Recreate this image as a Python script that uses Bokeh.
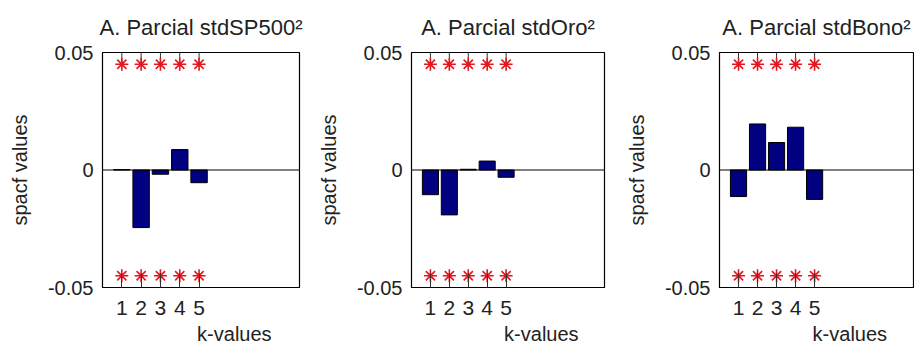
import math

from bokeh.plotting import figure
from bokeh.layouts import row
from bokeh.models import FixedTicker, Span, Range1d
from bokeh.embed import file_html
from bokeh.resources import INLINE

# Lags and partial autocorrelations of the squared standardized series
lags = [1, 2, 3, 4, 5]
pacf_sp500 = [0.0002, -0.0245, -0.0018, 0.0087, -0.0054]
pacf_oro = [-0.0105, -0.0191, 0.0003, 0.0038, -0.0031]
pacf_bono = [-0.0113, 0.0196, 0.0117, 0.0182, -0.0125]

# Confidence band drawn as star markers at each lag
band_upper = [0.045] * 5
band_lower = [-0.045] * 5

titles = ["A. Parcial stdSP500\u00b2", "A. Parcial stdOro\u00b2", "A. Parcial stdBono\u00b2"]
y_min, y_max = -0.05, 0.05
y_ticks = [-0.05, 0, 0.05]
y_tick_labels = {-0.05: "-0.05", 0: "0", 0.05: "0.05"}
x_label = "k-values"
y_label = "spacf values"

FONT = "Liberation Sans"
TEXT = "#222222"


def panel(title, values, width, border_left, border_right):
    p = figure(width=width, height=347, output_backend="svg", toolbar_location=None,
               x_range=Range1d(0, 10.2), y_range=Range1d(y_min, y_max),
               min_border_left=border_left, min_border_right=border_right,
               min_border_top=10, min_border_bottom=58)
    p.title.text = title
    p.title.text_font = FONT
    p.title.text_font_size = "22px"
    p.title.text_font_style = "normal"
    p.title.align = "center"
    p.title.text_color = TEXT
    p.title.standoff = 25

    p.grid.visible = False
    p.outline_line_color = "black"
    p.outline_line_width = 1.2
    p.background_fill_color = "white"
    p.border_fill_color = "white"

    # bottom axis; the label sits to the right of the frame centre
    xa = p.xaxis[0]
    xa.ticker = FixedTicker(ticks=lags)
    xa.major_tick_in = 14
    xa.major_tick_out = 0
    xa.minor_tick_line_color = None
    xa.major_tick_line_color = "#333333"
    xa.axis_line_color = "black"
    xa.major_label_text_font = FONT
    xa.major_label_text_font_size = "21px"
    xa.major_label_text_color = TEXT
    xa.major_label_standoff = 13
    xa.axis_label = "\u00a0" * 12 + x_label
    xa.axis_label_text_font = FONT
    xa.axis_label_text_font_size = "20px"
    xa.axis_label_text_font_style = "normal"
    xa.axis_label_text_color = TEXT
    xa.axis_label_standoff = 5

    # inward tick marks along the top edge (clipped to the frame)
    p.scatter(x=lags, y=[y_max] * len(lags), marker="dash", angle=math.pi / 2,
              size=28, line_color="#333333", line_width=1)

    # left axis
    ya = p.yaxis[0]
    ya.ticker = FixedTicker(ticks=y_ticks)
    ya.major_label_overrides = y_tick_labels
    ya.major_tick_in = 0
    ya.major_tick_out = 0
    ya.minor_tick_line_color = None
    ya.axis_line_color = "black"
    ya.major_label_text_font = FONT
    ya.major_label_text_font_size = "20px"
    ya.major_label_text_color = TEXT
    ya.major_label_standoff = 9
    ya.axis_label = y_label
    ya.axis_label_text_font = FONT
    ya.axis_label_text_font_size = "20px"
    ya.axis_label_text_font_style = "normal"
    ya.axis_label_text_color = TEXT
    ya.axis_label_standoff = 14

    p.vbar(x=lags, top=values, bottom=0, width=0.85,
           fill_color="#000080", line_color="black", line_width=1)
    p.add_layout(Span(location=0, dimension="width", line_color="black", line_width=1.2))

    p.scatter(x=lags, y=band_upper, marker="asterisk", size=13,
              line_color="#e3171f", line_width=1.6)
    p.scatter(x=lags, y=band_lower, marker="asterisk", size=13,
              line_color="#e3171f", line_width=1.6)
    return p


p1 = panel(titles[0], pacf_sp500, 305, 102, 6)
p2 = panel(titles[1], pacf_oro, 305, 106, 6)
p3 = panel(titles[2], pacf_bono, 304, 109, 1)

layout = row(p1, p2, p3)

open("out.html", "w").write(file_html(layout, INLINE))
